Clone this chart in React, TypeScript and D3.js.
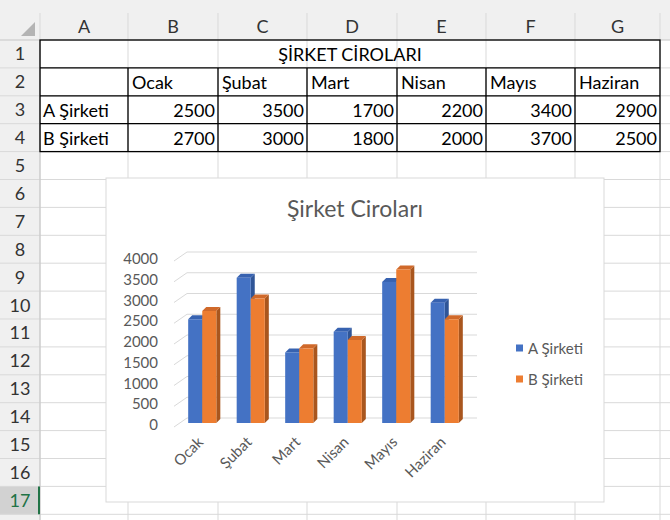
import React from "react";
import * as d3 from "d3";

// sheet + chart data
const sheetTitle = "ŞİRKET CİROLARI";
const chartTitle = "Şirket Ciroları";
const colLetters = ["A", "B", "C", "D", "E", "F", "G"];
const months = ["Ocak", "Şubat", "Mart", "Nisan", "Mayıs", "Haziran"];
const companies = ["A Şirketi", "B Şirketi"];
const aValues = [2500, 3500, 1700, 2200, 3400, 2900];
const bValues = [2700, 3000, 1800, 2000, 3700, 2500];
const yTicks = [0, 500, 1000, 1500, 2000, 2500, 3000, 3500, 4000];

const seriesValues = [aValues, bValues];
const frontColors = ["#4472C4", "#ED7D31"];
const sideColors = ["#2F5597", "#A9561E"];
const topColors = ["#3762B0", "#D0692A"];

const W = 670;
const H = 520;
const FONT = "Lato, 'Open Sans', sans-serif";

// sheet grid geometry
const colEdges = [0, 40, 128, 218, 307, 397, 486, 575, 660, 760];
const headTop = 13;
const rowTop = 40;
const rowH = 27.9;
const rowCount = 17;
const rowY = (r: number) => rowTop + (r - 1) * rowH; // top of row r

// chart box
const box = { x: 106, y: 178, w: 498, h: 324 };
const depth = { dx: 13, back: -5, front: 4 }; // floor depth for gridlines
const bar3d = { dx: 4, dy: 4 };

const App = () => {
  const x = d3.scaleBand<string>()
    .domain(months)
    .range([178, 469])
    .paddingInner(0.42)
    .paddingOuter(0.21);
  const xs = d3.scaleBand<string>()
    .domain(companies)
    .range([0, x.bandwidth()]);
  const y = d3.scaleLinear().domain([0, 4000]).range([423, 257]);

  const rows = d3.range(1, rowCount + 1);

  return (
    <svg width={W} height={H} style={{ position: "absolute", left: 0, top: 0 }} fontFamily={FONT}>
      <rect width={W} height={H} fill="#fff" />
      {/* column header band */}
      <rect x={0} y={0} width={W} height={rowTop} fill="#f0f0f0" />
      <rect x={0} y={rowTop} width={colEdges[1]} height={H - rowTop} fill="#f0f0f0" />
      <rect x={0} y={rowY(17)} width={colEdges[1]} height={rowH} fill="#d2d2d2" />
      <polygon points="35,22 35,36 21,36" fill="#b4b4b4" />

      {/* sheet gridlines */}
      {colEdges.slice(1).map((cx, i) => (
        <line key={"v" + i} x1={cx} x2={cx} y1={headTop} y2={H} stroke="#d9d9d9" />
      ))}
      {rows.map((r) => (
        <line key={"h" + r} x1={0} x2={W} y1={rowY(r) + rowH} y2={rowY(r) + rowH} stroke="#d9d9d9" />
      ))}
      <line x1={0} x2={W} y1={rowTop} y2={rowTop} stroke="#c6c6c6" />
      <line x1={colEdges[1]} x2={colEdges[1]} y1={rowTop} y2={H} stroke="#c6c6c6" />
      <line x1={colEdges[1] - 1} x2={colEdges[1] - 1} y1={rowY(17)} y2={rowY(17) + rowH} stroke="#217346" strokeWidth={2} />

      {/* headers */}
      {colLetters.map((c, i) => (
        <text key={c} x={(colEdges[i + 1] + colEdges[i + 2]) / 2} y={33} textAnchor="middle" fontSize={18} fill="#333">{c}</text>
      ))}
      {rows.map((r) => (
        <text key={"r" + r} x={20} y={rowY(r) + rowH / 2 + 6.5} textAnchor="middle" fontSize={18}
          fill={r === 17 ? "#217346" : "#333"}>{r}</text>
      ))}

      {/* table */}
      <text x={(colEdges[1] + colEdges[8]) / 2} y={rowY(1) + 21} textAnchor="middle" fontSize={18} fill="#000">{sheetTitle}</text>
      {months.map((m, i) => (
        <text key={m} x={colEdges[i + 2] + 4} y={rowY(2) + 21} fontSize={18} fill="#000">{m}</text>
      ))}
      {companies.map((c, si) => (
        <g key={c}>
          <text x={colEdges[1] + 3} y={rowY(3 + si) + 21} fontSize={18} fill="#000">{c}</text>
          {seriesValues[si].map((v, i) => (
            <text key={i} x={colEdges[i + 3] - 3} y={rowY(3 + si) + 21} textAnchor="end" fontSize={18} fill="#000">{v}</text>
          ))}
        </g>
      ))}
      <g stroke="#000" strokeWidth={1.3}>
        <rect x={colEdges[1]} y={rowY(1)} width={colEdges[8] - colEdges[1]} height={rowH * 4} fill="none" />
        {[2, 3, 4].map((r) => (
          <line key={r} x1={colEdges[1]} x2={colEdges[8]} y1={rowY(r)} y2={rowY(r)} />
        ))}
        {colEdges.slice(2, 8).map((cx, i) => (
          <line key={i} x1={cx} x2={cx} y1={rowY(2)} y2={rowY(5)} />
        ))}
      </g>

      {/* chart */}
      <rect x={box.x} y={box.y} width={box.w} height={box.h} fill="#fff" stroke="#d9d9d9" />
      <text x={355} y={217} textAnchor="middle" fontSize={23} fill="#595959">{chartTitle}</text>

      {yTicks.map((t) => (
        <g key={t}>
          <line x1={174} x2={174 + depth.dx} y1={y(t) + depth.front} y2={y(t) + depth.back} stroke="#d9d9d9" />
          <line x1={174 + depth.dx} x2={477} y1={y(t) + depth.back} y2={y(t) + depth.back} stroke="#d9d9d9" />
          <text x={158} y={y(t) + 7} textAnchor="end" fontSize={15} fill="#595959">{t}</text>
        </g>
      ))}

      {months.map((m, i) => (
        <g key={m}>
          {companies.map((c, si) => {
            const x0 = (x(m) || 0) + (xs(c) || 0);
            const w = xs.bandwidth();
            const top = y(seriesValues[si][i]);
            const base = y(0);
            const { dx, dy } = bar3d;
            return (
              <g key={c}>
                <polygon points={`${x0 + w},${top} ${x0 + w + dx},${top - dy} ${x0 + w + dx},${base - dy} ${x0 + w},${base}`} fill={sideColors[si]} />
                <polygon points={`${x0},${top} ${x0 + dx},${top - dy} ${x0 + w + dx},${top - dy} ${x0 + w},${top}`} fill={topColors[si]} />
                <rect x={x0} y={top} width={w} height={base - top} fill={frontColors[si]} />
              </g>
            );
          })}
          <text transform={`translate(${(x(m) || 0) + x.bandwidth() / 2 + 2},${443}) rotate(-45)`} textAnchor="end" fontSize={15} fill="#595959">{m}</text>
        </g>
      ))}

      {companies.map((c, si) => (
        <g key={c} transform={`translate(516,${348 + si * 31})`}>
          <rect x={0} y={-3.5} width={7} height={7} fill={frontColors[si]} />
          <text x={12} y={5.5} fontSize={15} fill="#595959">{c}</text>
        </g>
      ))}
    </svg>
  );
};

export default App;
